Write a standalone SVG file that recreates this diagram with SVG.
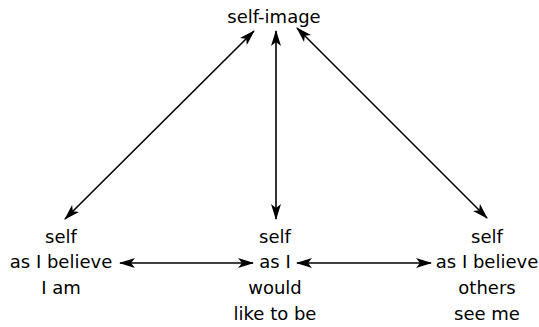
<svg xmlns="http://www.w3.org/2000/svg" width="539" height="327" viewBox="0 0 539 327">
<style>
text{font-family:"DejaVu Sans","Liberation Sans",sans-serif;font-size:18px;fill:#000;text-anchor:middle}
.c{stroke:#000;stroke-width:1.6;fill:none;marker-start:url(#a);marker-end:url(#a)}
</style>
<defs>
<marker id="a" viewBox="0 0 16 10" refX="15" refY="5" markerWidth="16" markerHeight="10" markerUnits="userSpaceOnUse" orient="auto-start-reverse">
<path d="M0,0 L16,5 L0,10 L4,5 z" fill="#000"/>
</marker>
</defs>
<rect width="539" height="327" fill="#fff"/>
<g id="connectors">
<line class="c" x1="254" y1="31" x2="65" y2="219"/>
<line class="c" x1="276" y1="31" x2="276" y2="219"/>
<line class="c" x1="297" y1="28" x2="487" y2="218"/>
<line class="c" x1="120" y1="263" x2="253" y2="263"/>
<line class="c" x1="297" y1="263" x2="431" y2="263"/>
</g>
<g id="self-image"><text x="274" y="23">self-image</text></g>
<g id="self-believe"><text x="61" y="243">self</text><text x="61" y="268">as I believe</text><text x="61" y="294">I am</text></g>
<g id="self-would"><text x="275" y="243">self</text><text x="275" y="268">as I</text><text x="275" y="294">would</text><text x="275" y="320">like to be</text></g>
<g id="self-others"><text x="487" y="243">self</text><text x="487" y="268">as I believe</text><text x="487" y="294">others</text><text x="487" y="320">see me</text></g>
</svg>
